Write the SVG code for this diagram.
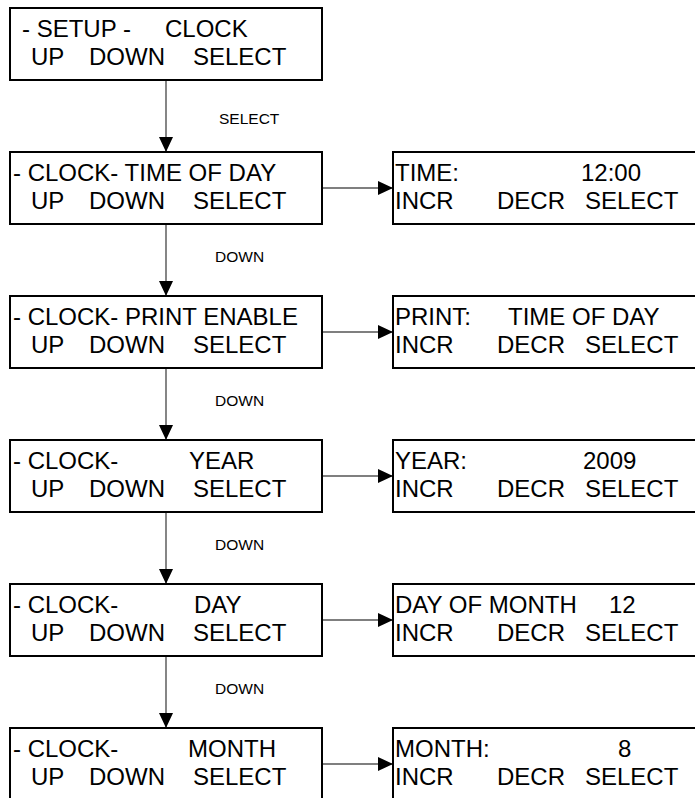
<svg xmlns="http://www.w3.org/2000/svg" width="695" height="798" viewBox="0 0 695 798">
<style>
.box{fill:#fff;stroke:#000;stroke-width:2}
.t{font-family:"Liberation Sans",Arial,sans-serif;font-size:24px;fill:#000}
.lbl{font-family:"Liberation Sans",Arial,sans-serif;font-size:15.5px;fill:#000}
.c{stroke:#444;stroke-width:1.3;fill:none;marker-end:url(#ah)}
.h{stroke:#000;stroke-width:1.2;fill:none;marker-end:url(#ah)}
</style>
<defs>
<marker id="ah" viewBox="0 0 15 14" refX="15" refY="7" markerWidth="15" markerHeight="14" orient="auto" markerUnits="userSpaceOnUse">
<path d="M0,0 L15,7 L0,14 z" fill="#000"/>
</marker>
</defs>
<rect width="695" height="798" fill="#fff"/>
<g id="connectors">
<line class="c" x1="166" y1="80" x2="166" y2="152"/>
<line class="c" x1="166" y1="224" x2="166" y2="296"/>
<line class="c" x1="166" y1="368" x2="166" y2="440"/>
<line class="c" x1="166" y1="512" x2="166" y2="584"/>
<line class="c" x1="166" y1="656" x2="166" y2="728"/>
<line class="h" x1="322" y1="188" x2="393" y2="188"/>
<line class="h" x1="322" y1="332" x2="393" y2="332"/>
<line class="h" x1="322" y1="476" x2="393" y2="476"/>
<line class="h" x1="322" y1="620" x2="393" y2="620"/>
<line class="h" x1="322" y1="764" x2="393" y2="764"/>
<text class="lbl" x="219" y="124">SELECT</text>
<text class="lbl" x="215" y="262">DOWN</text>
<text class="lbl" x="215" y="406">DOWN</text>
<text class="lbl" x="215" y="550">DOWN</text>
<text class="lbl" x="215" y="694">DOWN</text>
</g>
<g id="setup-clock">
<rect class="box" x="10" y="8" width="312" height="72"/>
<text class="t" y="37"><tspan x="22">- SETUP -</tspan><tspan x="165">CLOCK</tspan></text>
<text class="t" y="65"><tspan x="31">UP</tspan><tspan x="89">DOWN</tspan><tspan x="193">SELECT</tspan></text>
</g>
<g id="clock-time">
<rect class="box" x="10" y="152" width="312" height="72"/>
<text class="t" x="13" y="181">- CLOCK- TIME OF DAY</text>
<text class="t" y="209"><tspan x="31">UP</tspan><tspan x="89">DOWN</tspan><tspan x="193">SELECT</tspan></text>
</g>
<g id="clock-print">
<rect class="box" x="10" y="296" width="312" height="72"/>
<text class="t" x="13" y="325">- CLOCK- PRINT ENABLE</text>
<text class="t" y="353"><tspan x="31">UP</tspan><tspan x="89">DOWN</tspan><tspan x="193">SELECT</tspan></text>
</g>
<g id="clock-year">
<rect class="box" x="10" y="440" width="312" height="72"/>
<text class="t" y="469"><tspan x="13">- CLOCK-</tspan><tspan x="189">YEAR</tspan></text>
<text class="t" y="497"><tspan x="31">UP</tspan><tspan x="89">DOWN</tspan><tspan x="193">SELECT</tspan></text>
</g>
<g id="clock-day">
<rect class="box" x="10" y="584" width="312" height="72"/>
<text class="t" y="613"><tspan x="13">- CLOCK-</tspan><tspan x="194">DAY</tspan></text>
<text class="t" y="641"><tspan x="31">UP</tspan><tspan x="89">DOWN</tspan><tspan x="193">SELECT</tspan></text>
</g>
<g id="clock-month">
<rect class="box" x="10" y="728" width="312" height="72"/>
<text class="t" y="757"><tspan x="13">- CLOCK-</tspan><tspan x="188">MONTH</tspan></text>
<text class="t" y="785"><tspan x="31">UP</tspan><tspan x="89">DOWN</tspan><tspan x="193">SELECT</tspan></text>
</g>
<g id="time">
<rect class="box" x="393" y="152" width="320" height="72"/>
<text class="t" y="181"><tspan x="395">TIME:</tspan><tspan x="581">12:00</tspan></text>
<text class="t" y="209"><tspan x="395">INCR</tspan><tspan x="497">DECR</tspan><tspan x="585">SELECT</tspan></text>
</g>
<g id="print">
<rect class="box" x="393" y="296" width="320" height="72"/>
<text class="t" y="325"><tspan x="395">PRINT:</tspan><tspan x="508">TIME OF DAY</tspan></text>
<text class="t" y="353"><tspan x="395">INCR</tspan><tspan x="497">DECR</tspan><tspan x="585">SELECT</tspan></text>
</g>
<g id="year">
<rect class="box" x="393" y="440" width="320" height="72"/>
<text class="t" y="469"><tspan x="395">YEAR:</tspan><tspan x="583">2009</tspan></text>
<text class="t" y="497"><tspan x="395">INCR</tspan><tspan x="497">DECR</tspan><tspan x="585">SELECT</tspan></text>
</g>
<g id="day-of-month">
<rect class="box" x="393" y="584" width="320" height="72"/>
<text class="t" y="613"><tspan x="395">DAY OF MONTH</tspan><tspan x="609">12</tspan></text>
<text class="t" y="641"><tspan x="395">INCR</tspan><tspan x="497">DECR</tspan><tspan x="585">SELECT</tspan></text>
</g>
<g id="month">
<rect class="box" x="393" y="728" width="320" height="72"/>
<text class="t" y="757"><tspan x="395">MONTH:</tspan><tspan x="618">8</tspan></text>
<text class="t" y="785"><tspan x="395">INCR</tspan><tspan x="497">DECR</tspan><tspan x="585">SELECT</tspan></text>
</g>
</svg>
